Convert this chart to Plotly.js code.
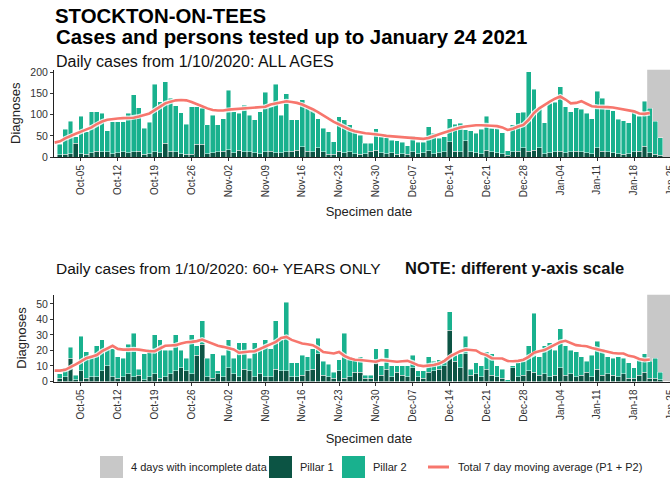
<!DOCTYPE html>
<html>
<head>
<meta charset="utf-8">
<script src="https://cdn.plot.ly/plotly-3.0.1.min.js"></script>
<style>
html,body{margin:0;padding:0;overflow:hidden;background:#fff;width:670px;height:485px;}
#chart{width:690px;height:485px;}
</style>
</head>
<body>
<div id="chart"></div>
<script>
// ---------- DATA ----------
const firstDay = '2020-10-01';      // first bar
const firstAvgDay = '2020-09-30';   // first point of moving average
const incompleteStart = '2021-01-20 12:00';
const incompleteEnd = '2021-01-28';

// ALL AGES (1 Oct 2020 .. 24 Jan 2021)
const pillar1All = [5,6,8,32,8,6,10,14,12,12, 8,10,12,10,12,14,6,8,12,10, 32,14,12,8,6,6,30,30,8,10,
  12,14,17,10,16,12,12,10,8,12, 14,10,10,12,14,16,24,14,12,22, 12,6,6,14,10,12,8,6,8,14,
  16,10,8,10,6,8,6,12,8,10, 15,8,10,12,36,14,12,38,12,10, 8,16,12,10,8,4,12,14,22,14,
  16,22,8,10,12,14,10,12,14,12, 10,8,22,14,12,10,8,6,8,12, 14,26,10,6,4,0];
const pillar2All = [25,60,76,16,89,54,97,93,91,50, 75,73,71,93,135,103,62,74,160,121, 146,125,109,97,71,113,89,85,68,89,
  64,76,141,97,87,111,87,78,99,141, 105,162,89,138,74,72,112,101,99,69, 56,54,30,81,78,64,52,46,24,18,
  51,38,38,30,32,27,21,38,27,25, 57,48,34,36,54,64,68,26,50,46, 58,81,56,58,49,11,64,91,84,188,
  144,93,73,117,117,152,109,95,103,101, 93,83,133,125,101,100,81,80,73,99, 83,106,105,78,42,0];
const avgAll = [34, 37,44,50,55,60,65,70,78,84,88, 90,91,92,92,93,96,99,103,111,120,
  127,131,134,135,134,130,124,120,115,111, 110,110,112,113,113,115,116,116,118,119,
  124,127,130,132,130,128,124,119,113,106, 98,90,83,77,70,65,61,58,56,55,
  54,52,50,49,48,46,46,45,44,43, 45,50,54,58,62,67,70,72,74,75,
  75,75,74,73,70,64,67,72,76,88, 104,115,124,131,138,143,136,127,128,132,
  126,120,119,119,118,117,115,113,111,108, 103,102,104];

// 60+ YEARS
const pillar1Old = [2,3,15,1,7,2,3,3,7,10, 3,2,3,5,3,4,1,3,5,2, 3,5,7,9,7,5,17,24,3,2,
  5,3,9,5,3,8,7,3,5,3, 3,8,7,7,3,3,4,7,8,18, 4,3,2,7,2,3,6,6,2,2,
  12,4,8,3,6,4,3,9,3,2, 6,7,8,10,33,13,9,18,4,5, 3,8,4,3,2,0,9,3,4,7,
  6,4,5,3,4,9,4,5,3,4, 6,3,8,4,5,4,3,5,2,2, 4,6,2,2,1,0];
const pillar2Old = [3,6,7,3,22,17,14,20,20,11, 18,14,12,19,28,4,17,18,25,25, 17,15,23,11,8,25,6,15,12,16,
  2,14,18,10,22,17,8,22,16,24, 18,31,20,44,9,9,13,9,13,10, 9,8,4,7,29,13,8,10,2,2,
  9,6,13,7,4,6,7,8,4,5, 10,6,6,4,12,4,9,11,4,7, 7,11,14,7,6,1,1,9,9,16,
  38,12,18,22,16,25,19,15,16,12, 7,14,18,17,11,11,13,10,10,7, 10,12,11,13,5,0];
const avgOld = [7, 7,7.5,9,11,13,15,16,17,19.5,21, 23,21,20.5,20.5,20.8,20.5,20,19.5,19.5,21.5,
  23,23.2,23.4,24.5,25.3,25.5,26,27,25.5,24, 23,22.3,21.5,20.6,18.5,19,19.3,19.5,21,22.5,
  24,25.5,28,28.7,26.8,25.5,24.5,24,23.4,21.5, 19,18.5,18,19,16.5,15,14,13.8,13.5,13,
  12.7,13.8,13.5,13,12.7,13,13.3,12,10.5,9.9, 10.3,10.6,11.5,13.3,16,18,19.5,20.6,20.4,20,
  18,17,15,14.8,14.8,13.2,13,13.3,14,15.9, 18.5,19.5,20.2,22,24,25.5,26.2,25,23.4,23,
  22.7,21.5,20.6,19.8,18.8,18.3,18,18,16.5,15.9, 14.5,13.8,14.2];

// ---------- HELPERS ----------
function dayList(start, n){
  const t0 = Date.parse(start + 'T00:00:00Z');
  const out = [];
  for (let i = 0; i < n; i++) out.push(new Date(t0 + i*86400000).toISOString().slice(0,10));
  return out;
}
const barDates = dayList(firstDay, pillar1All.length);
const avgDates = dayList(firstAvgDay, avgAll.length);

const C_P1 = '#0c5444', C_P2 = '#19b18e', C_AVG = '#f7766d', C_GREY = '#c8c8c8';
const FONT = 'Liberation Sans, Arial, Helvetica, sans-serif';

// pixel helpers (plot area: left 54, width 630; paper height 485)
const W = 690, H = 485, ML = 54, MR = 6;
const PW = W - ML - MR;
const px = x => (x - ML) / PW;
const py = y => 1 - y / H;

function barTrace(x, y, color, xa, ya, name){
  return {type:'bar', x:x, y:y, xaxis:xa, yaxis:ya, name:name, showlegend:false,
    marker:{color:color, line:{color:'rgba(255,255,255,0.75)', width:0.6}}, hoverinfo:'skip'};
}
function lineTraces(x, y, xa, ya){
  return [
    {type:'scatter', mode:'lines', x:x, y:y, xaxis:xa, yaxis:ya, showlegend:false,
      line:{color:'rgba(255,255,255,0.85)', width:5}, hoverinfo:'skip'},
    {type:'scatter', mode:'lines', x:x, y:y, xaxis:xa, yaxis:ya, showlegend:false,
      line:{color:C_AVG, width:2.6}, hoverinfo:'skip'}
  ];
}

const data = [
  barTrace(barDates, pillar1All, C_P1, 'x', 'y', 'Pillar 1'),
  barTrace(barDates, pillar2All, C_P2, 'x', 'y', 'Pillar 2'),
  ...lineTraces(avgDates, avgAll, 'x', 'y'),
  barTrace(barDates, pillar1Old, C_P1, 'x2', 'y2', 'Pillar 1'),
  barTrace(barDates, pillar2Old, C_P2, 'x2', 'y2', 'Pillar 2'),
  ...lineTraces(avgDates, avgOld, 'x2', 'y2')
];

const xRange = ['2020-09-29 21:07', '2021-01-27 11:45'];
function xAxis(anchor, standoff){
  return {type:'date', range:xRange, anchor:anchor, domain:[0,1],
    tick0:'2020-10-05', dtick:7*86400000, tickformat:'%b-%d', tickangle:-90,
    ticks:'outside', ticklen:3, tickcolor:'#333', showline:true, linecolor:'#222', linewidth:1,
    showgrid:false, zeroline:false, fixedrange:true,
    tickfont:{family:FONT, size:10, color:'#333'},
    title:{text:'Specimen date', font:{family:FONT, size:13, color:'#222'}, standoff:standoff}};
}
function yAxis(anchor, domain, range, dtick){
  return {anchor:anchor, domain:domain, range:range, dtick:dtick,
    ticks:'outside', ticklen:3, tickcolor:'#333', showline:true, linecolor:'#222', linewidth:1,
    showgrid:false, zeroline:false, fixedrange:true,
    tickfont:{family:FONT, size:10.5, color:'#333'},
    title:{text:'Diagnoses', font:{family:FONT, size:13, color:'#222'}, standoff:6}};
}

function legendText(t, x){
  return {text:t, xref:'paper', yref:'paper', x:px(x), y:py(467),
    xanchor:'left', yanchor:'middle', showarrow:false, font:{family:FONT, size:11, color:'#222'}};
}

const layout = {
  width:W, height:H, margin:{l:ML, r:MR, t:0, b:0},
  paper_bgcolor:'#fff', plot_bgcolor:'#fff',
  barmode:'stack', bargap:0.08, showlegend:false,
  font:{family:FONT, color:'#222'},
  title:{text:'<b>STOCKTON-ON-TEES</b>', x:55/W, xanchor:'left', xref:'container',
    y:1-23/H, yanchor:'bottom', yref:'container', pad:{t:0,b:0,l:0,r:0},
    font:{family:FONT, size:20.4, color:'#000'}},
  xaxis: xAxis('y', 10),
  yaxis: yAxis('x', [py(157), py(69.5)], [0,207], 50),
  xaxis2: xAxis('y2', 13),
  yaxis2: yAxis('x2', [py(381.5), py(294.5)], [0,56], 10),
  shapes:[
    {type:'rect', xref:'x', yref:'y', x0:incompleteStart, x1:incompleteEnd, y0:0, y1:207,
      fillcolor:C_GREY, line:{width:0}, layer:'below'},
    {type:'rect', xref:'x2', yref:'y2', x0:incompleteStart, x1:incompleteEnd, y0:0, y1:56,
      fillcolor:C_GREY, line:{width:0}, layer:'below'},
    // legend keys
    {type:'rect', xref:'paper', yref:'paper', x0:px(100), x1:px(123), y0:py(478), y1:py(456), fillcolor:C_GREY, line:{width:0}},
    {type:'rect', xref:'paper', yref:'paper', x0:px(269), x1:px(292), y0:py(478), y1:py(456), fillcolor:C_P1, line:{width:0}},
    {type:'rect', xref:'paper', yref:'paper', x0:px(342), x1:px(365), y0:py(478), y1:py(456), fillcolor:C_P2, line:{width:0}},
    {type:'line', xref:'paper', yref:'paper', x0:px(428), x1:px(449), y0:py(467), y1:py(467), line:{color:C_AVG, width:3}}
  ],
  annotations:[
    {text:'<b>Cases and persons tested up to January 24 2021</b>', xref:'paper', yref:'paper',
      x:px(54), y:py(37), xanchor:'left', yanchor:'middle', showarrow:false,
      font:{family:FONT, size:20.4, color:'#000'}},
    {text:'Daily cases from 1/10/2020: ALL AGES', xref:'paper', yref:'paper',
      x:px(54), y:py(62), xanchor:'left', yanchor:'middle', showarrow:false,
      font:{family:FONT, size:16, color:'#111'}},
    {text:'Daily cases from 1/10/2020: 60+ YEARS ONLY', xref:'paper', yref:'paper',
      x:px(54), y:py(268), xanchor:'left', yanchor:'middle', showarrow:false,
      font:{family:FONT, size:15.5, color:'#111'}},
    {text:'<b>NOTE: different y-axis scale</b>', xref:'paper', yref:'paper',
      x:px(403), y:py(268), xanchor:'left', yanchor:'middle', showarrow:false,
      font:{family:FONT, size:16.5, color:'#111'}},
    legendText('4 days with incomplete data', 129),
    legendText('Pillar 1', 298),
    legendText('Pillar 2', 371),
    legendText('Total 7 day moving average (P1 + P2)', 456)
  ]
};

Plotly.newPlot('chart', data, layout, {displayModeBar:false, staticPlot:true});
</script>
</body>
</html>
